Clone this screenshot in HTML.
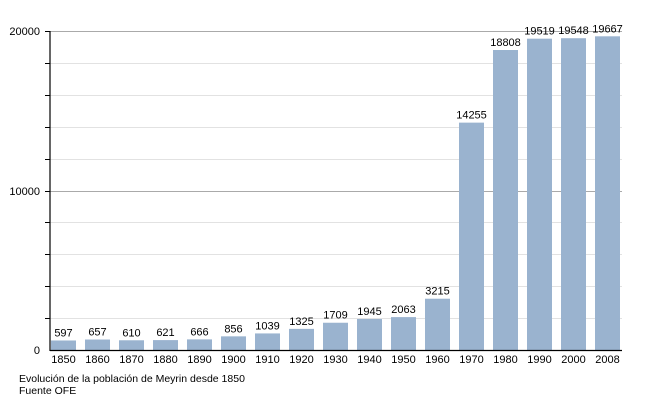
<!DOCTYPE html>
<html><head><style>body{margin:0;background:#fff}svg{display:block}text{font-family:"Liberation Sans",sans-serif;fill:#000}</style></head><body>
<svg width="650" height="400" viewBox="0 0 650 400" xmlns="http://www.w3.org/2000/svg">
<g id="grid"></g>
<g id="bars"></g>
<line x1="50" y1="31" x2="50" y2="351" stroke="#000" stroke-width="1.2"/>
<line x1="50" y1="350.5" x2="622" y2="350.5" stroke="#000" stroke-width="1.2"/>
<text x="40" y="35" font-size="11" text-anchor="end">20000</text>
<text x="40" y="195" font-size="11" text-anchor="end">10000</text>
<text x="40" y="354" font-size="11" text-anchor="end">0</text>
<text x="19" y="382" font-size="10.5">Evolución de la población de Meyrin desde 1850</text>
<text x="19" y="394" font-size="10.5">Fuente OFE</text>
<script>
(function(){
var g=document.getElementById('grid'),b=document.getElementById('bars'),ns='http://www.w3.org/2000/svg';
function el(p,t,a,tx){var e=document.createElementNS(ns,t);for(var k in a)e.setAttribute(k,a[k]);if(tx)e.textContent=tx;p.appendChild(e);}
for(var i=1;i<=10;i++){var yy=Math.round(350-i*31.9)+0.5;var dark=(i==5||i==10);
el(g,'line',{x1:50,x2:622,y1:yy,y2:yy,stroke:dark?'#aaa':'#e2e2e2','stroke-width':1});
el(g,'line',{x1:45,x2:50,y1:yy,y2:yy,stroke:'#000','stroke-width':1});}
var yrs=[1850,1860,1870,1880,1890,1900,1910,1920,1930,1940,1950,1960,1970,1980,1990,2000,2008];
var v=[597,657,610,621,666,856,1039,1325,1709,1945,2063,3215,14255,18808,19519,19548,19667];
for(var j=0;j<17;j++){var bx=51+34*j,bh=v[j]*0.01595,bt=350-bh;
el(b,'rect',{x:bx,y:bt,width:25,height:bh,fill:'#9ab3cf'});
el(b,'text',{x:bx+12.5,y:bt-4,'font-size':11,'text-anchor':'middle'},String(v[j]));
el(b,'text',{x:bx+12.5,y:363,'font-size':11,'text-anchor':'middle'},String(yrs[j]));}
})();
</script>
</svg>
</body></html>
